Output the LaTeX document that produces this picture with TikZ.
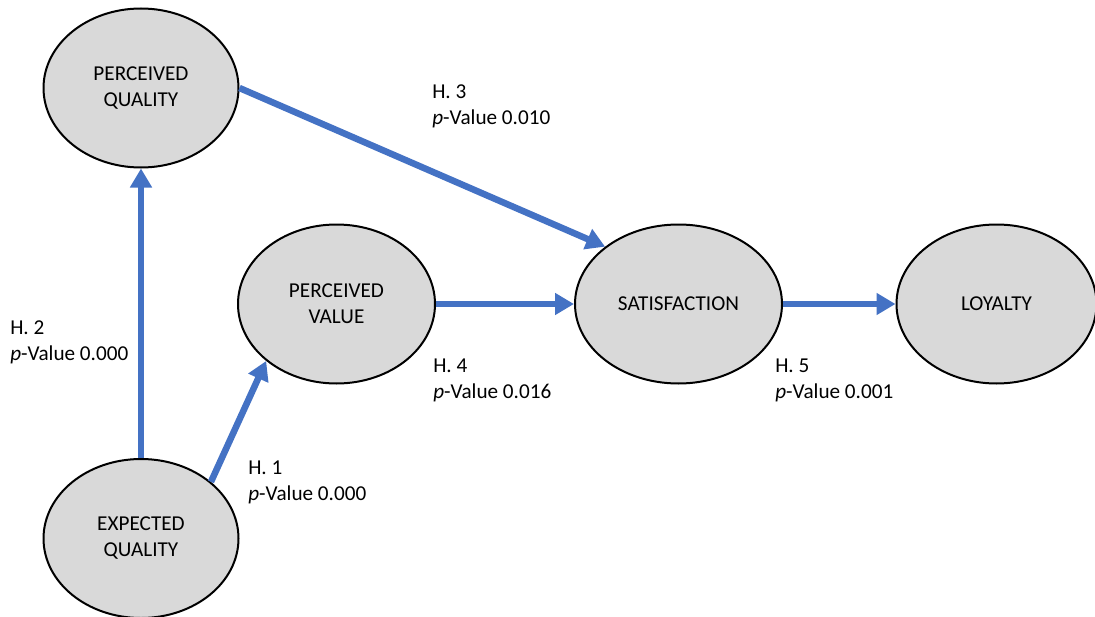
\documentclass[tikz,border=0pt]{standalone}
\usepackage{fontspec}
\setmainfont{Carlito}
\usetikzlibrary{shapes.geometric,arrows.meta}
\definecolor{arrblue}{HTML}{4472C4}
\definecolor{ellgray}{HTML}{D9D9D9}
\begin{document}
\begin{tikzpicture}[x=0.75pt,y=-0.75pt,
  ell/.style={ellipse, draw=black, line width=1.5pt, fill=ellgray, inner sep=0pt,
    minimum height=119.25pt, align=center, font=\fontsize{15.9pt}{19.5pt}\selectfont},
  conn/.style={draw=arrblue, line width=4.9pt, -{Triangle[length=14.25pt,width=15.75pt]}},
  lbl/.style={anchor=base west, inner sep=0pt, align=left, font=\fontsize{15.9pt}{19pt}\selectfont}]
\useasboundingbox (0,0) rectangle (1095,617);
\node[ell, minimum width=146.25pt] (PQ) at (141,88) {PERCEIVED\\QUALITY};
\node[ell, minimum width=147.75pt] (PV) at (336.5,304) {PERCEIVED\\VALUE};
\node[ell, minimum width=155.25pt] (SAT) at (678.5,304) {SATISFACTION};
\node[ell, minimum width=150pt] (LOY) at (996.5,304) {LOYALTY};
\node[ell, minimum width=146.25pt] (EQ) at (141,538.5) {EXPECTED\\QUALITY};

\draw[conn] (EQ.north) -- (PQ.south);
\draw[conn] (EQ.39) -- (PV.219);
\draw[conn] (PQ.east) -- (SAT.142.5);
\draw[conn] (PV.east) -- (SAT.west);
\draw[conn] (SAT.east) -- (LOY.west);

\node[lbl] (L2) at (10,360) {H. 2\\\textit{p}-Value 0.000};
\node[lbl] (L1) at (248,500) {H. 1\\\textit{p}-Value 0.000};
\node[lbl] (L3) at (432,124) {H. 3\\\textit{p}-Value 0.010};
\node[lbl] (L4) at (433,398) {H. 4\\\textit{p}-Value 0.016};
\node[lbl] (L5) at (775,398) {H. 5\\\textit{p}-Value 0.001};
\end{tikzpicture}
\end{document}
